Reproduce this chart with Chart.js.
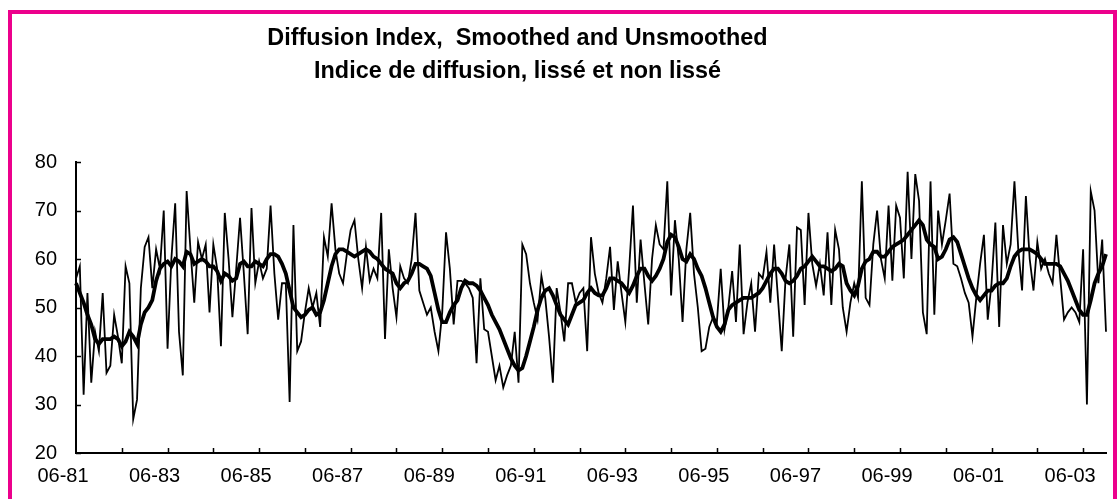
<!DOCTYPE html>
<html>
<head>
<meta charset="utf-8">
<script src="https://cdn.jsdelivr.net/npm/chart.js@4.4.1/dist/chart.umd.min.js"></script>
<style>
  html, body { margin: 0; padding: 0; background: #fff; }
  #wrap { position: relative; width: 1117px; height: 499px; overflow: hidden; background: #fff; }
  #frame { position: absolute; left: 8px; top: 10px; width: 1109px; height: 540px; box-sizing: border-box; border: 4px solid #ec008c; }
  #chart { position: absolute; left: 0; top: 0; }
  #title { position: absolute; left: 0; top: 21px; width: 1035px; text-align: center; pointer-events: none;
           font: bold 23.4px "Liberation Sans", Arial, sans-serif; line-height: 33px; color: #000; white-space: pre; }
</style>
</head>
<body>
<div id="wrap">
  <div id="frame"></div>
  <canvas id="chart" width="1117" height="499"></canvas>
  <div id="title"><div>Diffusion Index,  Smoothed and Unsmoothed</div><div>Indice de diffusion, lissé et non lissé</div></div>
</div>
<script>
// ==========================================================
// Diffusion index, monthly, 06-81 .. 12-03
// ==========================================================
const startYear = 1981;
const startMonth = 6;
const monthCount = 271;

// month categories "mm-yy"
const months = [];
for (let i = 0; i < monthCount; i++) {
  const m = ((startMonth - 1 + i) % 12) + 1;
  const y = startYear + Math.floor((startMonth - 1 + i) / 12);
  months.push(String(m).padStart(2, "0") + "-" + String(y % 100).padStart(2, "0"));
}

// unsmoothed index
const unsmoothed = [
  56, 58.5, 32, 53, 34.5, 45, 41, 53, 36.5, 38, 48.5, 44,
  38.5, 58.5, 55, 27, 31, 54, 62.5, 64.5, 54, 62, 58, 70,
  41.5, 60, 71.5, 45, 36, 74, 62, 51, 63.5, 60, 63, 49,
  63, 58, 42, 69.5, 60, 48, 58, 68.5, 57, 44.5, 70.5, 55,
  59.5, 56, 58, 71, 57, 47.5, 55, 55, 30.5, 67, 41, 43,
  49, 54, 50, 53, 46, 64.5, 60.5, 71.5, 62, 57, 55, 61,
  66, 68, 60, 54, 62.5, 55.5, 58, 56, 69.5, 43.5, 62, 54,
  48, 58.5, 56, 55, 60, 69.5, 53.5, 51, 48.5, 50, 45, 41,
  49, 65.5, 58, 46.5, 55.5, 55.5, 55, 54, 52, 38.5, 56, 45.5,
  45, 40, 35, 38, 33.5, 36, 38, 45, 34.5, 63, 61, 55,
  51, 47.5, 56.5, 52, 44, 34.5, 54, 49, 43, 55, 55, 51,
  53, 54, 41, 64.5, 57, 53, 51, 56, 62.5, 49.5, 59.5, 53,
  47, 58, 71, 51, 64, 55, 46.5, 60, 67, 63, 62, 76,
  52.5, 68, 60, 47, 62, 69.5, 57, 50, 41, 41.5, 46, 48,
  47, 58, 45.5, 50, 57.5, 47, 63, 44.5, 51, 55, 45, 57,
  56, 61.5, 51, 63, 52, 41, 56, 63, 44, 66.5, 66, 50.5,
  69.5, 59, 54.5, 59, 52.5, 65.5, 50.5, 66, 62, 50, 45, 51,
  55, 52, 76, 52, 50.5, 63, 70, 60, 56, 71, 55.5, 71,
  68.5, 56, 78, 60, 77.5, 72, 49, 44.5, 76, 48.5, 70, 63,
  68, 73.5, 59, 58.5, 56, 53, 51, 44, 52, 59, 65, 47.5,
  55, 67.5, 46, 67, 59, 63, 76, 62, 53.5, 73, 60, 53.5,
  63.5, 58, 60, 57, 55, 65, 56, 47.5, 49, 50, 49, 47,
  62, 30, 74, 70, 55, 64, 45
];

// smoothed index
const smoothed = [
  55, 53, 51, 48.5, 46.5, 43.5, 42.5, 43.5, 43.5, 43.5, 44, 43.5,
  42, 43, 45, 44, 42.5, 46.5, 49, 50, 51.5, 55.5, 58, 59,
  59.5, 58.5, 60, 59.5, 58.5, 61.5, 61, 59, 59.5, 60, 59.5, 58.5,
  58.5, 57.5, 55.5, 57, 56.5, 55.5, 56, 59, 59.5, 58.5, 58.5, 59.5,
  59, 58.5, 60, 61, 61, 60.5, 59, 57, 53.5, 50, 49, 48,
  48.5, 49.5, 50, 48.5, 49, 51.5, 55, 58.5, 61, 62, 62, 61.5,
  61, 60.5, 61, 61.5, 62, 61.5, 60.5, 60, 59, 58, 57.5, 57,
  55, 54, 55, 55.5, 57, 59, 59, 58.5, 58, 56.5, 53, 49.5,
  47, 47, 49, 50.5, 51.5, 54, 55.5, 55, 55, 54.5, 53.5, 52,
  50.5, 48.5, 47, 45.5, 43.5, 41.5, 39.5, 38, 37, 37.5, 40, 43,
  46, 49.5, 52, 53.5, 54, 52.5, 50.5, 48.5, 47.5, 46.5, 48.5, 50.5,
  51, 51.5, 53, 54, 53, 52.5, 52.5, 54, 56, 56, 55.5, 55,
  54, 53, 54.5, 56.5, 58, 58, 56.5, 55.5, 56.5, 58, 60, 63.5,
  65, 64.5, 62.5, 60, 59.5, 61, 60, 58, 56.5, 54, 51, 48,
  46, 45, 46.5, 49.5, 50.5, 51, 51.5, 52, 52, 52, 52.5, 53,
  54, 55.5, 57, 58, 58, 57, 55.5, 55, 55.5, 56.5, 58, 58.5,
  59.5, 60.5, 59.5, 58.5, 58.5, 58, 57.5, 58, 59, 58.5, 55, 53.5,
  52.5, 54.5, 58, 59.5, 60, 61.5, 61.5, 60.5, 60.5, 61.5, 62.5, 63,
  63.5, 64, 65, 66, 67, 68, 67, 64, 63, 62.5, 60, 60.5,
  62, 64, 64.5, 63.5, 61, 58.5, 56, 54, 52.5, 51.5, 52.5, 53.5,
  53.5, 54.5, 55, 55, 56, 58.5, 60.5, 61.5, 62, 62, 62, 61.5,
  61, 60, 59, 59, 59, 59, 58.5, 57, 55.5, 53.5, 51.5, 49.5,
  48.5, 48.5, 51.5, 55, 57, 58.5, 61
];

const yTicks = [20, 30, 40, 50, 60, 70, 80];
const labelEvery = 24;   // a label every two years
const tickEvery = 12;    // a tick mark every year

const FONT = '"Liberation Sans", Arial, sans-serif';

// small tick marks drawn inside the plot, like the original
const innerTicks = {
  id: "innerTicks",
  afterDraw(chart) {
    const { ctx, scales: { x, y } } = chart;
    ctx.save();
    ctx.strokeStyle = "#000";
    ctx.lineWidth = 1.5;
    ctx.beginPath();
    yTicks.forEach((v) => {
      const py = Math.round(y.getPixelForValue(v)) + 0.5;
      ctx.moveTo(x.left, py);
      ctx.lineTo(x.left + 5, py);
    });
    for (let i = tickEvery; i < months.length; i += tickEvery) {
      const px = Math.round(x.getPixelForValue(i)) + 0.5;
      ctx.moveTo(px, y.bottom);
      ctx.lineTo(px, y.bottom - 5);
    }
    ctx.stroke();
    ctx.restore();
  },
};

new Chart(document.getElementById("chart"), {
  type: "line",
  data: {
    labels: months,
    datasets: [
      {
        label: "Smoothed / Lissé",
        data: smoothed,
        borderColor: "#000",
        borderWidth: 3.8,
        pointRadius: 0,
        tension: 0,
        order: 0,
      },
      {
        label: "Unsmoothed / Non lissé",
        data: unsmoothed,
        borderColor: "#000",
        borderWidth: 1.8,
        pointRadius: 0,
        tension: 0,
        order: 1,
      },
    ],
  },
  options: {
    responsive: false,
    animation: false,
    events: [],
    layout: { padding: { top: 162, right: 7, left: 0, bottom: 0 } },
    plugins: {
      legend: { display: false },
      tooltip: { enabled: false },
      title: { display: false },
    },
    scales: {
      x: {
        type: "category",
        offset: false,
        grid: { display: false, drawTicks: false },
        border: { color: "#000", width: 2 },
        ticks: {
          autoSkip: false,
          maxRotation: 0,
          minRotation: 0,
          padding: 11,
          labelOffset: -13,
          color: "#000",
          font: { family: FONT, size: 20 },
          callback: (v, i) => (i % labelEvery === 0 ? months[i] : ""),
        },
        afterFit: (s) => { s.height = 46; },
      },
      y: {
        min: 20,
        max: 80,
        grid: { display: false, drawTicks: false },
        border: { color: "#000", width: 2 },
        ticks: {
          stepSize: 10,
          padding: 19,
          color: "#000",
          font: { family: FONT, size: 20 },
        },
        afterFit: (s) => { s.width = 76; },
      },
    },
  },
  plugins: [innerTicks],
});
</script>
</body>
</html>
